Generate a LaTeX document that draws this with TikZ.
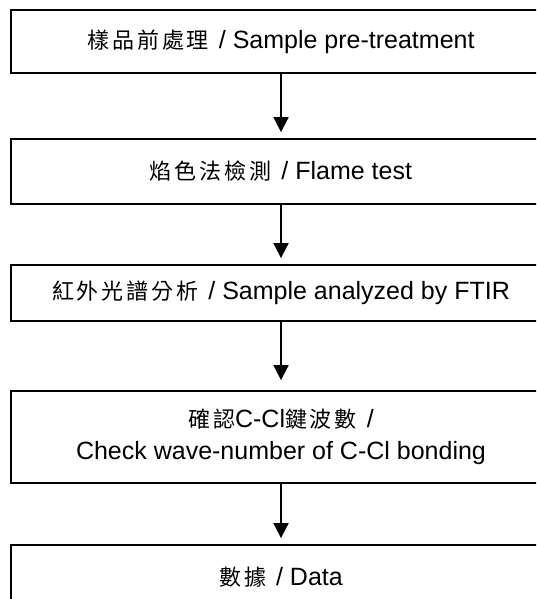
\documentclass[tikz,border=0pt]{standalone}
\usepackage{fontspec}
\setmainfont{Liberation Sans}
\newfontfamily\cjk[LetterSpace=13]{Noto Sans CJK TC}
\usetikzlibrary{arrows.meta}
\tikzset{
  stepbox/.style={draw=black, line width=1.8pt, minimum width=540pt, inner sep=0pt, font=\fontsize{25pt}{32pt}\selectfont, align=center},
  flow/.style={line width=1.8pt, -{Triangle[width=15pt,length=15pt]}, shorten >=6pt}
}
\newcommand{\zhtxt}[1]{{\cjk\fontsize{22pt}{32pt}\selectfont #1}}
\begin{document}
\begin{tikzpicture}[x=1pt,y=-1pt]
\useasboundingbox (0,0) rectangle (536,599);
\clip (0,0) rectangle (536,599);
\node[stepbox, minimum height=63pt] (b1) at (281,41.5) {\zhtxt{樣品前處理}\hspace{10pt}/ Sample pre-treatment};
\node[stepbox, minimum height=65pt] (b2) at (281,171.5) {\zhtxt{焰色法檢測}\hspace{10pt}/ Flame test};
\node[stepbox, minimum height=56pt] (b3) at (281,293) {\zhtxt{紅外光譜分析}\hspace{10pt}/ Sample analyzed by FTIR};
\node[stepbox, minimum height=92pt] (b4) at (281,437) {\zhtxt{確認}C-Cl\zhtxt{鍵波數}\hspace{10pt}/\\Check wave-number of C-Cl bonding};
\node[stepbox, minimum height=64pt] (b5) at (281,577) {\zhtxt{數據}\hspace{10pt}/ Data};
\draw[flow] (b1.south) -- (b2.north);
\draw[flow] (b2.south) -- (b3.north);
\draw[flow, shorten >=10pt] (b3.south) -- (b4.north);
\draw[flow] (b4.south) -- (b5.north);
\end{tikzpicture}
\end{document}
